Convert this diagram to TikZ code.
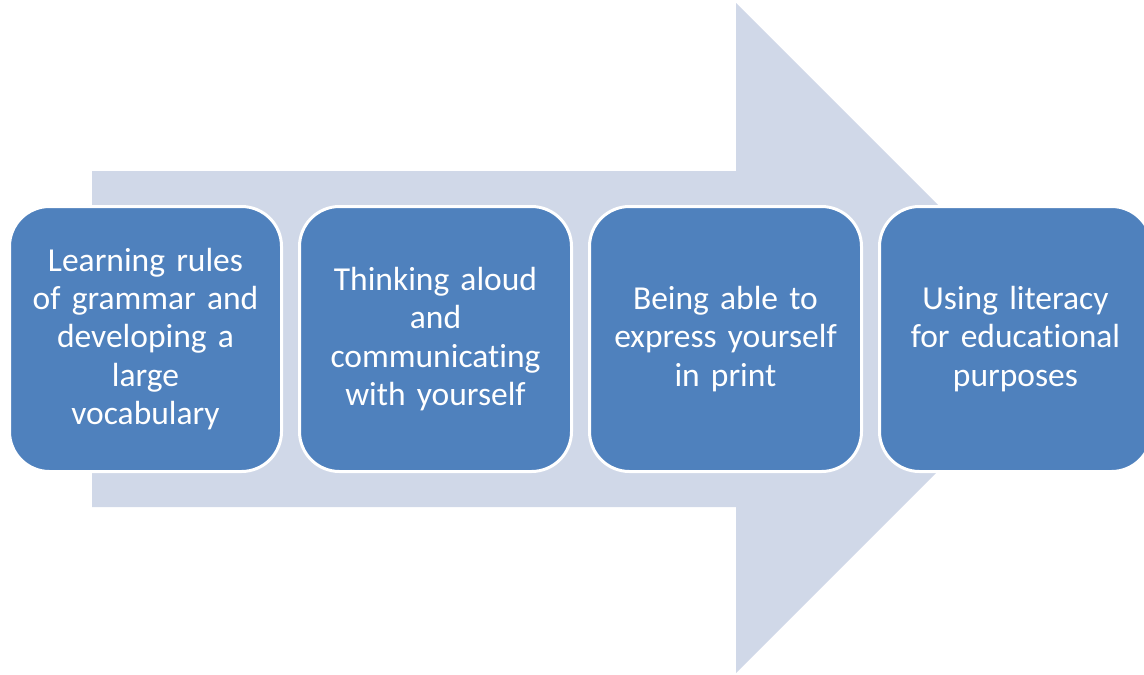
\documentclass[tikz,border=0pt]{standalone}
\usepackage{fontspec}
\setmainfont{Carlito}[Ligatures=NoCommon]
\usetikzlibrary{positioning}
\definecolor{stepblue}{RGB}{79,129,189}
\definecolor{arrowgray}{RGB}{208,216,232}
\tikzset{
	stagebox/.style={draw=white, line width=3pt, fill=stepblue, rounded corners=40pt,
		minimum width=272pt, minimum height=265pt, text width=266pt, align=center,
		text=white, font=\fontsize{33.5}{38.3}\selectfont, inner sep=0pt},
}

\begin{document}
\begin{tikzpicture}[x=1pt, y=-1pt, node distance=15pt]
	\useasboundingbox (0,0) rectangle (1144,675);
	\fill[arrowgray] (92,171) -- (736,171) -- (736,3) -- (1071,338) -- (736,673) -- (736,507) -- (92,507) -- cycle;
	\node[stagebox] (learn) at (145.5,339) {Learning rules\\of grammar and\\developing a\\large\\vocabulary};
	\node[stagebox, right=of learn] (think) {Thinking aloud\\and\\communicating\\with yourself};
	\node[stagebox, right=of think] (express) {Being able to\\express yourself\\in print};
	\node[stagebox, right=of express] (use) {Using literacy\\for educational\\purposes};
\end{tikzpicture}
\end{document}
